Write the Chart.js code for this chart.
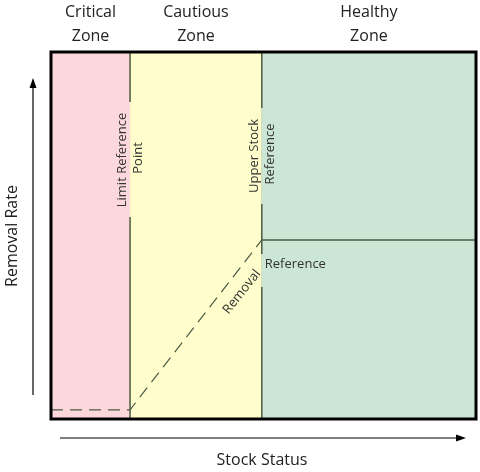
<!DOCTYPE html>
<html>
<head>
<meta charset="utf-8">
<script src="https://cdn.jsdelivr.net/npm/chart.js@4"></script>
<style>
  body { margin: 0; background: #fff; }
  #wrap { width: 480px; height: 472px; }
</style>
</head>
<body>
<div id="wrap"><canvas id="c"></canvas></div>
<script>
// zone boundaries on the stock axis (0..100) and removal axis (0..100)
const zoneNames = [["Critical", "Zone"], ["Cautious", "Zone"], ["Healthy", "Zone"]];
const zoneEdges = [0, 18.6, 49.6, 100];
const zoneColors = ["#fcd8dd", "#fefdcb", "#cce6d5"];
const removalX = [0, 18.6, 49.6, 100];
const removalY = [2.5, 2.5, 48.8, 48.8];
const lineColor = "#4b5a42";
const font = "'Open Sans', sans-serif";

function paintZones(ctx, x, y, clip) {
  ctx.save();
  if (clip) { ctx.beginPath(); ctx.rect(clip[0], clip[1], clip[2], clip[3]); ctx.clip(); }
  for (let i = 0; i < zoneColors.length; i++) {
    const x0 = x.getPixelForValue(zoneEdges[i]), x1 = x.getPixelForValue(zoneEdges[i + 1]);
    ctx.fillStyle = zoneColors[i];
    ctx.fillRect(x0, y.top, x1 - x0, y.bottom - y.top);
  }
  ctx.restore();
}

function rotText(ctx, txt, cx, cy, ang) {
  ctx.save();
  ctx.translate(cx, cy);
  ctx.rotate(ang);
  ctx.fillText(txt, 0, 0);
  ctx.restore();
}

const decor = {
  id: "decor",
  beforeDatasetsDraw(chart) {
    const { ctx, scales: { x, y } } = chart;
    paintZones(ctx, x, y);
  },
  afterDatasetsDraw(chart) {
    const { ctx, scales: { x, y }, chartArea: a } = chart;
    const lrp = x.getPixelForValue(zoneEdges[1]);
    const usr = x.getPixelForValue(zoneEdges[2]);
    const rr = y.getPixelForValue(removalY[2]);
    // gaps in the lines behind the labels
    paintZones(ctx, x, y, [lrp - 3, 102, 6, 115]);
    paintZones(ctx, x, y, [usr - 3, 108, 6, 96]);
    paintZones(ctx, x, y, [usr - 3, rr + 14, 6, 33]);
    // labels
    ctx.fillStyle = "#333";
    ctx.font = "13px " + font;
    ctx.textAlign = "center";
    ctx.textBaseline = "middle";
    rotText(ctx, "Limit Reference", lrp - 8, 160, -Math.PI / 2);
    rotText(ctx, "Point", lrp + 8, 158, -Math.PI / 2);
    rotText(ctx, "Upper Stock", usr - 8, 156, -Math.PI / 2);
    rotText(ctx, "Reference", usr + 8, 154, -Math.PI / 2);
    rotText(ctx, "Removal", usr - 20, rr + 52, -0.9);
    ctx.textAlign = "left";
    ctx.fillText("Reference", usr + 3, rr + 24);
    // frame
    ctx.strokeStyle = "#000";
    ctx.lineWidth = 3;
    ctx.strokeRect(a.left, a.top, a.right - a.left, a.bottom - a.top);
    // zone titles
    ctx.fillStyle = "#222";
    ctx.font = "16px " + font;
    ctx.textAlign = "center";
    for (let i = 0; i < zoneNames.length; i++) {
      const cx = (x.getPixelForValue(zoneEdges[i]) + x.getPixelForValue(zoneEdges[i + 1])) / 2;
      ctx.fillText(zoneNames[i][0], cx, 12);
      ctx.fillText(zoneNames[i][1], cx, 36);
    }
    // axis arrows
    ctx.strokeStyle = "#000";
    ctx.fillStyle = "#000";
    ctx.lineWidth = 1.2;
    ctx.beginPath(); ctx.moveTo(33, 395); ctx.lineTo(33, 84); ctx.stroke();
    ctx.beginPath(); ctx.moveTo(33, 78); ctx.lineTo(29.5, 88); ctx.lineTo(36.5, 88); ctx.fill();
    ctx.beginPath(); ctx.moveTo(60, 438); ctx.lineTo(460, 438); ctx.stroke();
    ctx.beginPath(); ctx.moveTo(466, 438); ctx.lineTo(456, 434.5); ctx.lineTo(456, 441.5); ctx.fill();
    ctx.fillStyle = "#222";
    ctx.font = "16px " + font;
    ctx.fillText("Stock Status", 262, 460);
    rotText(ctx, "Removal Rate", 12, 236, -Math.PI / 2);
  }
};

new Chart(document.getElementById("c"), {
  type: "scatter",
  data: {
    datasets: [
      {
        data: removalX.slice(0, 3).map((v, i) => ({ x: v, y: removalY[i] })),
        showLine: true, borderColor: lineColor, borderWidth: 1.2,
        borderDash: [12, 7], pointRadius: 0
      },
      {
        data: removalX.slice(2).map((v, i) => ({ x: v, y: removalY[i + 2] })),
        showLine: true, borderColor: lineColor, borderWidth: 1.5, pointRadius: 0
      },
      {
        data: [{ x: zoneEdges[1], y: 0 }, { x: zoneEdges[1], y: 100 }],
        showLine: true, borderColor: lineColor, borderWidth: 1.5, pointRadius: 0
      },
      {
        data: [{ x: zoneEdges[2], y: 0 }, { x: zoneEdges[2], y: 100 }],
        showLine: true, borderColor: lineColor, borderWidth: 1.5, pointRadius: 0
      }
    ]
  },
  options: {
    responsive: true,
    maintainAspectRatio: false,
    animation: false,
    layout: { padding: { left: 51, top: 52, right: 4, bottom: 53 } },
    plugins: { legend: { display: false }, tooltip: { enabled: false } },
    scales: {
      x: { type: "linear", min: 0, max: 100, display: false },
      y: { type: "linear", min: 0, max: 100, display: false }
    }
  },
  plugins: [decor]
});
</script>
</body>
</html>
